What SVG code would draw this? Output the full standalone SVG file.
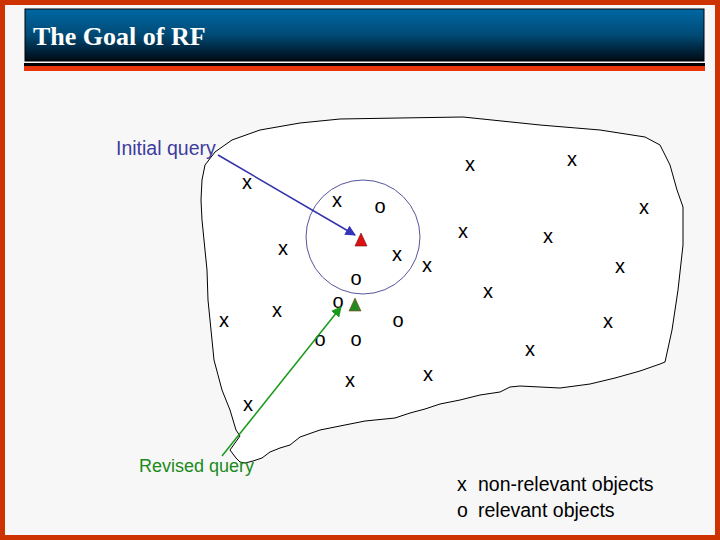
<svg xmlns="http://www.w3.org/2000/svg" width="720" height="540" viewBox="0 0 720 540">
<defs>
<linearGradient id="tg" x1="0" y1="0" x2="0" y2="1"><stop offset="0" stop-color="#0068a3"/><stop offset="0.5" stop-color="#004a75"/><stop offset="1" stop-color="#000a14"/></linearGradient>
<marker id="ab" viewBox="0 0 10 10" refX="9" refY="5" markerWidth="7" markerHeight="7" orient="auto"><path d="M0,0L10,5L0,10z" fill="#3333bb"/></marker>
<marker id="ag" viewBox="0 0 10 10" refX="9" refY="5" markerWidth="7" markerHeight="7" orient="auto"><path d="M0,0L10,5L0,10z" fill="#1a9a1a"/></marker>
<style>
.p{font-family:"Liberation Sans",Arial,sans-serif;font-size:20px;fill:#000;text-anchor:middle}
.l{font-family:"Liberation Sans",Arial,sans-serif;font-size:19.5px}
</style>
</defs>
<rect x="2.5" y="2.5" width="715" height="535" fill="#f7f7f7" stroke="#cc3300" stroke-width="5"/>
<g id="title">
<rect x="25" y="9" width="679" height="52" fill="url(#tg)" stroke="#000" stroke-width="1"/>
<rect x="24" y="63" width="681" height="3" fill="#000"/>
<rect x="24" y="66" width="681" height="5" fill="#e8350c"/>
<text x="33" y="45" font-family="Liberation Serif,serif" font-weight="bold" font-size="26" fill="#fff">The Goal of RF</text>
</g>
<g id="space">
<path d="M202,180 L205,165 L215,152 L232,140 L260,130 L300,123 L340,119 L400,118 L463,117 L540,125 L600,130 L645,137 L660,145 L670,165 L677,190 L683,207 L683,245 L678,290 L672,330 L665,362 L660,364 L640,371 L615,378 L590,384 L560,388 L540,387 L520,386 L510,387 L500,392 L480,395 L460,400 L440,404 L425,409 L410,413 L395,418 L365,421 L340,426 L320,430 L300,437 L290,445 L280,448 L270,452 L262,458 L253,461 L245,463 L240,462 L236,458 L230,450 L240,436 L236,430 L230,410 L222,390 L214,360 L211,330 L208,300 L207,270 L205,250 L202,220 L201,200 Z" fill="#fff" stroke="#000" stroke-width="1"/>
</g>
<circle id="range" cx="363" cy="237" r="57" fill="none" stroke="#555599" stroke-width="1"/>
<g id="points">
<text class="p" x="247" y="189">x</text><text class="p" x="337" y="207">x</text><text class="p" x="283" y="255">x</text><text class="p" x="397" y="261">x</text><text class="p" x="427" y="272">x</text><text class="p" x="277" y="317">x</text><text class="p" x="224" y="327">x</text><text class="p" x="350" y="387">x</text><text class="p" x="428" y="381">x</text><text class="p" x="248" y="411">x</text>
<text class="p" x="470" y="171">x</text><text class="p" x="572" y="166">x</text><text class="p" x="644" y="214">x</text><text class="p" x="463" y="238">x</text><text class="p" x="548" y="243">x</text><text class="p" x="620" y="273">x</text><text class="p" x="488" y="298">x</text><text class="p" x="608" y="328">x</text><text class="p" x="530" y="356">x</text>
<text class="p" x="380" y="213">o</text><text class="p" x="356" y="285">o</text><text class="p" x="338" y="308">o</text><text class="p" x="320" y="346">o</text><text class="p" x="356" y="346">o</text><text class="p" x="398" y="327">o</text>
<path d="M361,233 L367,246 L355,246 Z" fill="#dd1111" stroke="#771111" stroke-width="0.6"/>
<path d="M355,298 L361,311 L349,311 Z" fill="#228822" stroke="#884422" stroke-width="0.6"/>
</g>
<g id="connectors">
<line x1="218" y1="155" x2="355" y2="235" stroke="#3333aa" stroke-width="1.5" marker-end="url(#ab)"/>
<line x1="222" y1="456" x2="341" y2="307" stroke="#1a9a1a" stroke-width="1.5" marker-end="url(#ag)"/>
</g>
<g id="labels">
<text class="l" x="116" y="155" fill="#3d3d9e">Initial query</text>
<text class="l" x="139" y="472" fill="#1a8a1a" style="font-size:18px">Revised query</text>
<text class="l" x="457" y="491" fill="#000">x</text><text class="l" x="478" y="491" fill="#000">non-relevant objects</text>
<text class="l" x="457" y="517" fill="#000">o</text><text class="l" x="478" y="517" fill="#000">relevant objects</text>
</g>
</svg>
